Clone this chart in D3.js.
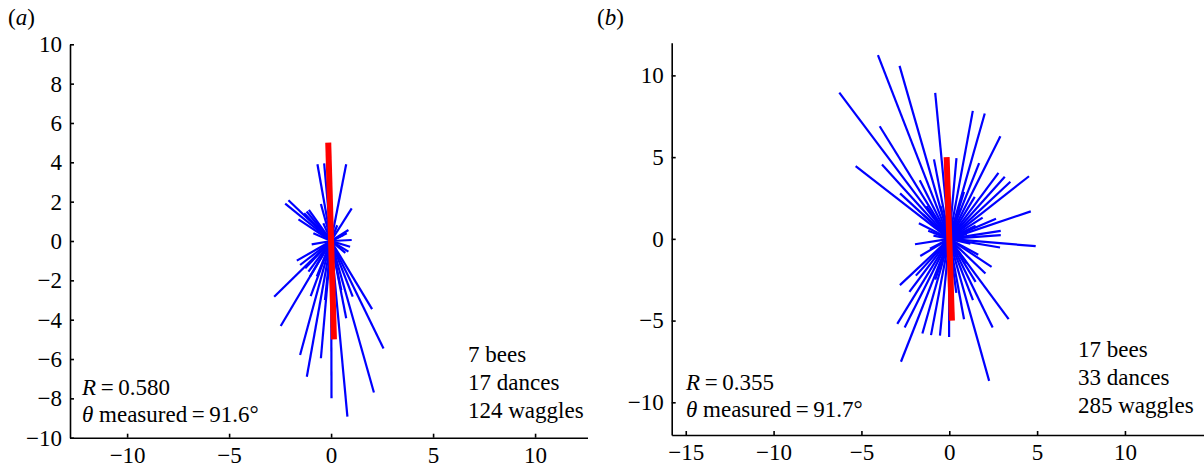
<!DOCTYPE html>
<html>
<head>
<meta charset="utf-8">
<script src="https://cdn.jsdelivr.net/npm/d3@7"></script>
<style>
  body { margin: 0; background: #fff; }
  svg { display: block; }
  svg text { font-family: "Liberation Serif", "Times New Roman", Times, "DejaVu Serif", serif; fill: #000; }
  .axis text { font-size: 23px; }
  .axis path, .axis line { stroke: #000; stroke-width: 1.6; }
  .label { font-size: 23px; }
</style>
</head>
<body>
<svg width="1204" height="470"></svg>
<script>
// waggle vectors (end points, start at origin), panel (a)
const wagglesA = [
  [-0.67, 3.9], [-0.34, 3.95], [0.74, 3.9],
  [-2.25, 1.9], [-2.09, 2.07], [-1.6, 1.1], [-1.32, 1.41], [-1.09, 1.58], [-1.2, 1.5],
  [-0.87, 0.39], [-0.5, 1.88], [-0.38, 0.9], [-0.2, 1.0], [0.3, 0.8],
  [1.01, 1.66], [0.85, 0.56], [0.77, 0.39], [1.01, 0.05], [0.93, -0.29], [0.85, -0.54],
  [0.7, -0.6], [0.6, 0.3],
  [-0.95, -0.17], [-1.68, -1.0], [-1.52, -1.22], [-1.27, -1.39], [-1.11, -1.56],
  [-1.03, -1.8], [-0.7, -1.8],
  [-2.79, -2.83], [-2.47, -4.32], [-1.0, -2.8], [-1.52, -5.8], [-1.19, -6.9], [-0.5, -5.96],
  [0.02, -8.0], [0.8, -8.93], [0.74, -3.93], [1.06, -2.83], [2.01, -3.46], [2.57, -5.46],
  [2.1, -7.7], [0.5, -2.5], [-0.3, -3.0]
];

// panel (b)
const wagglesB = [
  [-4.06, 11.24], [-2.83, 10.58], [-6.26, 8.95], [-0.8, 8.93], [-3.96, 6.89], [-5.33, 4.45],
  [-3.83, 4.55], [-2.8, 2.78], [-1.68, 3.59], [-0.87, 4.86], [0.41, 4.94], [1.34, 7.83],
  [2.02, 7.67], [2.91, 6.28], [1.7, 4.63], [2.8, 4.04], [3.16, 3.8], [3.48, 3.49],
  [4.54, 3.83], [4.64, 1.68], [4.92, -0.45], [2.93, 0.49], [2.93, 0.23], [2.89, -0.53],
  [2.66, 1.23], [1.45, 2.57], [0.84, 2.87], [-1.73, 0.96], [-1.95, -0.33], [-1.65, -1.05],
  [-1.9, -2.25], [-2.81, -2.83], [-2.27, -3.24], [-2.96, -5.2], [-2.54, -5.42], [-2.75, -7.52],
  [-1.53, -5.79], [-1.04, -5.89], [-0.53, -5.92], [-0.01, -6.0], [0.84, -4.92], [1.35, -3.75],
  [1.5, -2.63], [2.47, -5.42], [3.38, -4.91], [2.27, -8.69], [2.41, -1.71], [2.06, -2.12],
  [1.65, -0.97],
  [-1.2, 0.5], [-0.9, 0.2], [1.0, 0.3], [1.2, -0.3], [-1.1, -0.6], [1.5, 0.8], [-0.5, 2.0],
  [0.6, 1.8], [-1.3, 2.0], [1.9, 1.3], [-0.8, -2.5], [0.4, -3.3], [-1.5, 1.5], [1.0, -1.5]
];

// mean direction bars
const meanA = [[-0.14, 5], [0.14, -5]];
const meanB = [[-0.15, 5], [0.15, -5]];

const xTicksA = [-10, -5, 0, 5, 10];
const yTicksA = [-10, -8, -6, -4, -2, 0, 2, 4, 6, 8, 10];
const xTicksB = [-15, -10, -5, 0, 5, 10];
const yTicksB = [-10, -5, 0, 5, 10];

const statsA = { R: "0.580", theta: "91.6°", info: ["7 bees", "17 dances", "124 waggles"] };
const statsB = { R: "0.355", theta: "91.7°", info: ["17 bees", "33 dances", "285 waggles"] };

const svg = d3.select("svg");

const drawPanel = (opt) => {
  const x = d3.scaleLinear().domain(opt.xDomain).range([opt.left, opt.right]);
  const y = d3.scaleLinear().domain(opt.yDomain).range([opt.bottom, opt.top]);
  const g = svg.append("g");

  const xAxis = g.append("g")
    .attr("class", "axis")
    .attr("transform", "translate(0," + opt.bottom + ")")
    .call(d3.axisBottom(x).tickValues(opt.xTicks).tickSizeInner(-4).tickSizeOuter(0).tickPadding(9));

  const yAxis = g.append("g")
    .attr("class", "axis")
    .attr("transform", "translate(" + opt.left + ",0)")
    .call(d3.axisLeft(y).tickValues(opt.yTicks).tickSizeInner(-4).tickSizeOuter(0).tickPadding(8));

  xAxis.attr("font-family", null).attr("font-size", null);
  yAxis.attr("font-family", null).attr("font-size", null);

  g.selectAll(".waggle")
    .data(opt.waggles)
    .enter().append("line")
    .attr("class", "waggle")
    .attr("x1", x(0))
    .attr("y1", y(0))
    .attr("x2", (d) => x(d[0]))
    .attr("y2", (d) => y(d[1]))
    .attr("stroke", "#0000ff")
    .attr("stroke-width", 2.2);

  g.append("line")
    .attr("x1", x(opt.mean[0][0]))
    .attr("y1", y(opt.mean[0][1]))
    .attr("x2", x(opt.mean[1][0]))
    .attr("y2", y(opt.mean[1][1]))
    .attr("stroke", "#ff0000")
    .attr("stroke-width", 6);

  const p = g.append("text").attr("class", "label").attr("x", opt.panelX).attr("y", 25);
  p.append("tspan").text("(");
  p.append("tspan").attr("font-style", "italic").text(opt.panel);
  p.append("tspan").text(")");

  const r = g.append("text").attr("class", "label").attr("x", opt.statX).attr("y", opt.rY);
  r.append("tspan").attr("font-style", "italic").text("R");
  r.append("tspan").text("\u2009=\u2009" + opt.stats.R);

  const t = g.append("text").attr("class", "label").attr("x", opt.statX).attr("y", opt.rY + 27);
  t.append("tspan").attr("font-style", "italic").text("θ");
  t.append("tspan").text(" measured\u2009=\u2009" + opt.stats.theta);

  g.selectAll(".info")
    .data(opt.stats.info)
    .enter().append("text")
    .attr("class", "label info")
    .attr("x", opt.infoX)
    .attr("y", (d, i) => opt.infoY + i * 28)
    .text((d) => d);
};

drawPanel({
  panel: "a", panelX: 8,
  xDomain: [-12.8, 12.57], yDomain: [-10, 10],
  left: 70, right: 587.5, top: 44.3, bottom: 437.7,
  xTicks: xTicksA, yTicks: yTicksA,
  waggles: wagglesA, mean: meanA, stats: statsA,
  statX: 82, rY: 395, infoX: 468, infoY: 362
});

drawPanel({
  panel: "b", panelX: 597,
  xDomain: [-15.8, 14.5], yDomain: [-12, 12],
  left: 671.7, right: 1204, top: 42.7, bottom: 435,
  xTicks: xTicksB, yTicks: yTicksB,
  waggles: wagglesB, mean: meanB, stats: statsB,
  statX: 686, rY: 390, infoX: 1078, infoY: 357
});
</script>
</body>
</html>
